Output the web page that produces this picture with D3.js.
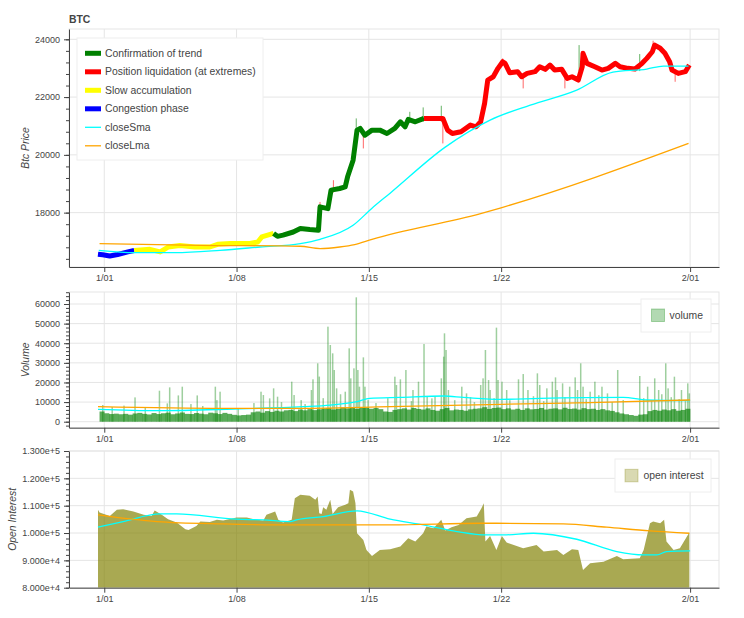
<!DOCTYPE html>
<html>
<head>
<meta charset="utf-8">
<script src="https://cdn.jsdelivr.net/npm/d3@7"></script>
<style>
body { margin: 0; background: #fff; }
svg { font-family: "Liberation Sans", Arial, Helvetica, sans-serif; }
.axis text { fill: #444; font-size: 9px; }
.axis path, .axis line { stroke: #444; }
</style>
</head>
<body>
<div id="chart"></div>
<script>
// hours are counted from 2023-01-01 00:00
const T0 = new Date(2023, 0, 1);

const xTickHours = [0, 168, 336, 504, 744];
const xTickLabels = ["1/01", "1/08", "1/15", "1/22", "2/01"];

// BTC close
const priceHours = [-8,-2,7,17,30,38,58,71,81,96,115,134,144,160,185,195,200,215,
  220,227,240,249,261,272,274,284,288,299,306,309,316,321,325,331,340,350,359,369,376,382,386,395,406,
  412,424,430,436,442,453,465,472,478,483,487,494,500,506,509,515,525,530,537,547,553,560,566,572,581,
  588,594,602,607,608,613,623,632,640,649,655,665,674,683,689,696,699,706,712,718,721,729,738,743];
const priceValues = [16560,16540,16500,16550,16640,16690,16730,16640,16810,16860,16810,16810,16905,16930,16930,16985,17158,17280,
  17180,17220,17330,17450,17415,17390,18200,18140,18780,18836,18890,19240,19816,20856,20915,20680,20856,20856,20740,20915,21145,20970,21227,21145,21262,
  21262,21262,21262,20856,20740,20800,21030,20970,21145,21782,22590,22704,22995,23224,23168,22842,22880,22704,22820,22880,23050,22960,23110,22936,22960,
  22648,22704,22590,23050,23515,23168,23050,22936,22995,23168,23050,22995,22970,23168,23340,23570,23800,23690,23515,23224,22936,22820,22880,23110];

// regimes (legend order) and the spans they colour
const regimeNames = ["Confirmation of trend", "Position liquidation (at extremes)", "Slow accumulation", "Congestion phase"];
const regimeColors = ["#008000", "#ff0000", "#ffff00", "#0000ff"];
const spanStart = [-8, 38, 215, 406];
const spanEnd = [38, 215, 406, 743];
const spanRegime = [3, 2, 0, 1];

// high/low wicks
const wickHours = [274, 291, 320, 329, 388, 405, 428, 430, 506, 532, 585, 603, 680, 697, 725];
const wickLow = [18100, 18700, 20800, 20222, 21100, 21150, 21150, 20396, 23100, 22300, 22300, 22900, 22900, 23500, 22530];
const wickHigh = [18370, 19123, 21262, 20800, 21490, 21643, 21700, 21262, 23340, 22800, 22900, 23800, 23490, 23950, 22900];
const wickColor = ["red","red","green","red","green","green","green","red","red","red","red","green","green","red","red"];

const closeSmaHours = [-7,39,90,147,198,249,274,316,340,363,433,490,541,600,646,689,710,742];
const closeSmaValues = [16697,16617,16617,16697,16811,16929,17078,17563,18153,18673,20267,21203,21723,22243,22867,22971,23075,23075];
const closeLmaHours = [-6,122,249,274,299,318,340,478,505,742];
const closeLmaValues = [16929,16870,16836,16756,16811,16895,17078,17969,18177,20395];

// volume: 6-hour base level starting at hour -6, plus single-hour spikes
const volBaseStart = -6;
const volBase = [5200,4300,3900,4100, 3800,4000,3600,4200, 4500,4000,3700,4400, 3900,4300,4600,3800,
  4200,4700,4000,3900, 4400,4100,3800,4600, 4300,3900,4500,4000, 3500,3200,3400,3600,
  4800,5200,4600,5400, 5000,5600,5200,5800, 6000,5400,6200,5800, 6400,5900,6300,6800,
  7000,6200,6600,7200, 6800,7400,6500,7000, 7200,6600,7000,6400, 5200,5000,6000,6400,
  6800,6200,7000,6500, 6200,6800,6000,5600, 6400,7000,5800,6200, 6000,5600,6300,6600,
  6800,7400,6500,7000, 7200,6400,6800,6200, 6600,6000,6800,6300, 6500,7000,6200,6600,
  6800,6300,7100,6500, 6700,6200,6900,6400, 6600,6000,6400,5800, 5500,4800,4200,3800,
  3400,3000,3600,3800, 5400,6000,5600,6200, 5800,6400,5600,6000, 6600];
const volSpikeHours = [-2,39,70,80,83,94,99,118,141,143,147,199,202,210,215,220,238,241,263,265,
  271,273,284,287,290,292,295,306,311,313,317,320,322,324,329,331,369,371,376,383,
  392,399,406,410,416,428,431,432,434,437,454,460,478,481,484,488,490,498,500,505,
  511,526,532,538,550,553,562,569,573,575,582,591,598,601,605,608,617,623,632,639,
  652,659,680,690,699,704,713,716,724,733,741,743,
  10,25,52,110,125,170,190,225,250,255,278,300,335,345,360,390,420,445,465,470,
  495,515,545,558,585,612,628,645,685,695,708,720,730,738];
const volSpikeValues = [8500,12400,15800,9350,17500,13400,17850,13400,17850,11000,15300,15300,13600,11900,17000,12750,20400,13600,16150,21600,
  29750,23000,48450,39100,34850,26350,17000,15300,37400,22100,27200,63400,26350,17850,32800,17850,22950,18700,21600,26350,
  16150,20400,39600,12750,11900,22100,33150,45050,36550,16150,17850,14450,18700,22100,36550,21250,16150,47950,21250,20400,
  16150,21600,24300,16150,24650,18700,17000,20400,22600,16150,19550,17850,22600,16150,29750,17850,15300,20400,17850,14450,
  26350,11050,23300,17850,22100,16150,29750,17000,22950,16150,19550,14450,
  7500,8200,7000,9000,8000,7000,9500,10000,11000,9000,12000,14000,11000,9500,12000,10500,13000,11000,12500,10000,
  12000,11000,13000,10500,12500,11500,13500,10000,12000,11000,14000,12500,11500,10500];
const volSmaHours = [-8,67,164,253,287,321,337,376,431,456,503,553,659,689,744];
const volSmaValues = [6290,5610,6460,7650,8500,10200,11900,12410,13090,12410,11390,11900,12410,11050,10710];
const volLmaHours = [-8,151,236,363,503,617,744];
const volLmaValues = [7650,6800,6800,7650,8840,9690,11050];

// open interest
const oiHours = [-8,-6,7,16,24,37,50,60,64,73,81,92,103,107,117,122,134,143,151,168,
  181,194,202,206,217,221,227,238,242,249,261,268,271,273,276,278,282,287,290,297,
  306,310,312,316,319,321,329,333,340,350,363,376,386,395,405,409,418,428,433,441,
  450,460,473,479,482,484,490,498,505,511,532,549,558,575,583,594,602,608,617,634,
  651,659,680,685,693,697,706,711,714,723,731,743];
const oiValues = [108470,107500,106270,108470,108720,107860,106640,106270,108230,106640,105050,103830,101390,101140,102610,104200,104070,104810,104560,105660,
  105660,104810,104560,106640,107860,104810,103830,104810,112750,113970,113600,112140,113360,107250,107000,109450,108470,112140,107000,109450,
  110300,110920,115800,115190,110920,99920,97470,93810,91610,93810,94050,95030,98090,96860,99920,102360,101750,104810,100900,102120,
  102970,105420,106030,109080,110920,96860,98940,93810,98940,96500,94420,95640,93200,93810,91980,94050,93810,86480,88920,89530,
  91610,90390,90750,93810,103580,104200,103580,104810,96860,93810,94420,100160];
const oiSmaHours = [-8,24,71,92,168,202,236,244,278,321,363,405,448,485,507,545,600,651,685,702,714,744];
const oiSmaValues = [102120,104200,107000,107000,105050,104810,104200,104810,106030,108110,105050,102970,100530,99310,99310,99920,97720,93200,91980,91980,93200,93440];
const oiLmaHours = [-8,67,151,236,363,479,583,638,693,743];
const oiLmaValues = [106640,104200,103340,102970,102970,103580,103340,102120,100770,99920];

const hr = h => new Date(T0.getTime() + h * 3600e3);
const L = 69, R = 719;
const x = d3.scaleTime().domain([hr(-44.8), hr(780.7)]).range([L, R]);
const xTickDates = xTickHours.map(hr);

const svg = d3.select("#chart").append("svg").attr("width", 744).attr("height", 618);

function makePanel(id, top, bottom, domain, major, minor, fmt, label, labelX) {
  const y = d3.scaleLinear().domain(domain).range([bottom, top]);
  const g = svg.append("g");
  g.selectAll("line.hg").data(major).join("line").attr("class", "hg")
    .attr("x1", L).attr("x2", R).attr("y1", d => y(d)).attr("y2", d => y(d))
    .attr("stroke", "#e5e5e5");
  g.selectAll("line.vg").data(xTickDates).join("line").attr("class", "vg")
    .attr("x1", d => x(d)).attr("x2", d => x(d)).attr("y1", top).attr("y2", bottom)
    .attr("stroke", "#e5e5e5");
  g.append("rect").attr("x", L).attr("y", top).attr("width", R - L).attr("height", bottom - top)
    .attr("fill", "none").attr("stroke", "#e5e5e5");
  svg.append("clipPath").attr("id", id).append("rect")
    .attr("x", L).attr("y", top).attr("width", R - L).attr("height", bottom - top);
  const plot = svg.append("g").attr("clip-path", "url(#" + id + ")");
  const axes = () => {
    svg.append("g").attr("class", "axis").attr("transform", "translate(0," + bottom + ")")
      .call(d3.axisBottom(x).tickValues(xTickDates).tickFormat((d, i) => xTickLabels[i])
        .tickSize(5).tickSizeOuter(0));
    svg.append("g").attr("class", "axis").attr("transform", "translate(" + L + ",0)")
      .call(d3.axisLeft(y).tickValues(minor).tickFormat("").tickSize(3).tickSizeOuter(0))
      .call(a => a.select(".domain").remove());
    svg.append("g").attr("class", "axis").attr("transform", "translate(" + L + ",0)")
      .call(d3.axisLeft(y).tickValues(major).tickFormat(fmt).tickSize(5).tickSizeOuter(0).tickPadding(4));
    svg.append("text").attr("transform", "translate(" + labelX + "," + ((top + bottom) / 2) + ") rotate(-90)")
      .attr("text-anchor", "middle").attr("dy", "0.35em")
      .style("font-style", "italic").style("font-size", "10.4px").attr("fill", "#444")
      .text(label);
  };
  return { y, plot, axes };
}

function maLine(plot, y, hours, values, color) {
  const line = d3.line().x((d, i) => x(hr(hours[i]))).y(d => y(d)).curve(d3.curveMonotoneX);
  plot.append("path").attr("d", line(values)).attr("fill", "none")
    .attr("stroke", color).attr("stroke-width", 1.3);
}

// ---- price panel
const p1 = makePanel("c1", 29, 267, [16118, 24357],
  d3.range(18000, 24001, 2000), d3.range(16400, 24357, 400), d3.format("d"), "Btc Price", 25);

p1.plot.selectAll("line.wick").data(wickHours).join("line").attr("class", "wick")
  .attr("x1", d => x(hr(d))).attr("x2", d => x(hr(d)))
  .attr("y1", (d, i) => p1.y(wickLow[i])).attr("y2", (d, i) => p1.y(wickHigh[i]))
  .attr("stroke", (d, i) => wickColor[i]).attr("stroke-opacity", 0.6).attr("stroke-width", 1);

spanStart.forEach((s, k) => {
  const idx = d3.range(priceHours.length).filter(i => priceHours[i] >= s && priceHours[i] <= spanEnd[k]);
  const line = d3.line().x(i => x(hr(priceHours[i]))).y(i => p1.y(priceValues[i]));
  p1.plot.append("path").attr("d", line(idx)).attr("fill", "none")
    .attr("stroke", regimeColors[spanRegime[k]]).attr("stroke-width", 5)
    .attr("stroke-linejoin", "round");
});
maLine(p1.plot, p1.y, closeSmaHours, closeSmaValues, "#00ffff");
maLine(p1.plot, p1.y, closeLmaHours, closeLmaValues, "#ffa500");
p1.axes();

svg.append("text").attr("x", L).attr("y", 23).attr("fill", "#444")
  .style("font-weight", "bold").style("font-size", "10.4px").text("BTC");

// legend
const leg = svg.append("g");
leg.append("rect").attr("x", 77).attr("y", 38).attr("width", 186).attr("height", 122)
  .attr("fill", "#fff").attr("stroke", "#eee");
const legItems = regimeNames.map((n, i) => ({ n, c: regimeColors[i], w: 5 }))
  .concat([{ n: "closeSma", c: "#00ffff", w: 1.3 }, { n: "closeLma", c: "#ffa500", w: 1.3 }]);
legItems.forEach((d, i) => {
  const yy = 53.3 + i * 18.5;
  leg.append("line").attr("x1", 85).attr("x2", 101).attr("y1", yy).attr("y2", yy)
    .attr("stroke", d.c).attr("stroke-width", d.w);
  leg.append("text").attr("x", 105).attr("y", yy).attr("dy", "0.35em")
    .attr("fill", "#444").style("font-size", "10.4px").text(d.n);
});

// ---- volume panel
const p2 = makePanel("c2", 292, 427.7, [-3059, 66118],
  d3.range(0, 60001, 10000), d3.range(-2000, 66001, 2000), d3.format("d"), "Volume", 25);
p2.plot.selectAll("rect.base").data(volBase).join("rect").attr("class", "base")
  .attr("x", (d, i) => x(hr(volBaseStart + i * 6)))
  .attr("width", (d, i) => x(hr(volBaseStart + i * 6 + 6)) - x(hr(volBaseStart + i * 6)) + 0.3)
  .attr("y", d => p2.y(d)).attr("height", d => p2.y(0) - p2.y(d))
  .attr("fill", "#008000").attr("fill-opacity", 0.65);
p2.plot.selectAll("rect.spike").data(volSpikeValues).join("rect").attr("class", "spike")
  .attr("x", (d, i) => x(hr(volSpikeHours[i])) - 0.7).attr("width", 1.5)
  .attr("y", d => p2.y(d)).attr("height", d => p2.y(0) - p2.y(d))
  .attr("fill", "#008000").attr("fill-opacity", 0.38);
maLine(p2.plot, p2.y, volSmaHours, volSmaValues, "#00ffff");
maLine(p2.plot, p2.y, volLmaHours, volLmaValues, "#ffa500");
p2.axes();

const leg2 = svg.append("g");
leg2.append("rect").attr("x", 641).attr("y", 299).attr("width", 70).attr("height", 33)
  .attr("fill", "#fff").attr("stroke", "#eee");
leg2.append("rect").attr("x", 651.5).attr("y", 309).attr("width", 13).attr("height", 12.5)
  .attr("fill", "#008000").attr("fill-opacity", 0.3).attr("stroke", "#008000").attr("stroke-opacity", 0.3);
leg2.append("text").attr("x", 669.5).attr("y", 315.5).attr("dy", "0.35em")
  .attr("fill", "#444").style("font-size", "10.4px").text("volume");

// ---- open interest panel
const p3 = makePanel("c3", 451, 587.7, [80000, 130000],
  d3.range(80000, 130001, 10000), d3.range(80000, 130001, 2000), d3.format(".3e"), "Open Interest", 12);
const oiArea = d3.area().x((d, i) => x(hr(oiHours[i]))).y0(p3.y(80000)).y1(d => p3.y(d));
p3.plot.append("path").attr("d", oiArea(oiValues))
  .attr("fill", "#808000").attr("fill-opacity", 0.68);
maLine(p3.plot, p3.y, oiSmaHours, oiSmaValues, "#00ffff");
maLine(p3.plot, p3.y, oiLmaHours, oiLmaValues, "#ffa500");
p3.axes();

const leg3 = svg.append("g");
leg3.append("rect").attr("x", 615).attr("y", 459).attr("width", 96).attr("height", 33)
  .attr("fill", "#fff").attr("stroke", "#eee");
leg3.append("rect").attr("x", 625).attr("y", 469.3).attr("width", 13).attr("height", 12.5)
  .attr("fill", "#808000").attr("fill-opacity", 0.3).attr("stroke", "#808000").attr("stroke-opacity", 0.3);
leg3.append("text").attr("x", 643.5).attr("y", 475.5).attr("dy", "0.35em")
  .attr("fill", "#444").style("font-size", "10.4px").text("open interest");
</script>
</body>
</html>
